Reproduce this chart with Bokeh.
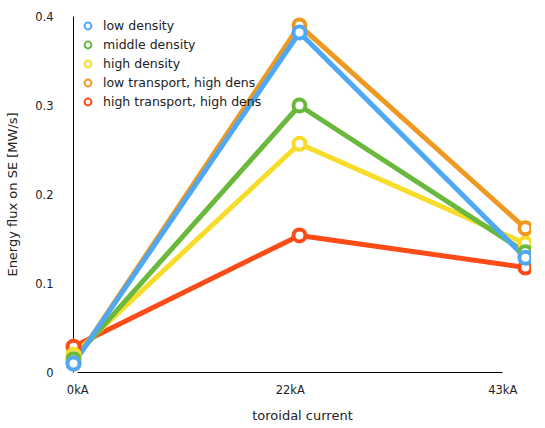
from bokeh.plotting import figure
from bokeh.models import Range1d, FixedTicker, LinearAxis, Legend, LegendItem
from bokeh.embed import file_html
from bokeh.resources import INLINE

categories = ["0kA", "22kA", "43kA"]
y_ticks = [0, 0.1, 0.2, 0.3, 0.4]
y_tick_labels = ["0", "0.1", "0.2", "0.3", "0.4"]

series_names = ["low density", "middle density", "high density",
                "low transport, high dens", "high transport, high dens"]
low_density = [0.010, 0.382, 0.129]
middle_density = [0.015, 0.300, 0.135]
high_density = [0.020, 0.257, 0.145]
low_transport_high_dens = [0.010, 0.390, 0.162]
high_transport_high_dens = [0.029, 0.154, 0.118]
colors = ["#4fa8f5", "#6ab83c", "#f7dc2a", "#ee9a22", "#fb4b17"]

series = [low_density, middle_density, high_density,
          low_transport_high_dens, high_transport_high_dens]

FONT = "DejaVu Sans"
FRAME_W = 458
FRAME_H = 356

p = figure(frame_width=FRAME_W, frame_height=FRAME_H, output_backend="svg",
           toolbar_location=None,
           x_range=Range1d(0, 2.027), y_range=Range1d(0, 0.4),
           min_border_left=73, min_border_right=0, min_border_top=16,
           min_border_bottom=46, x_axis_type=None)
p.outline_line_color = None
p.grid.visible = False
p.background_fill_color = "white"
p.border_fill_color = "white"

xs = list(range(len(categories)))
p.extra_x_ranges = {"axis": Range1d(-0.02, 2.135)}

xaxis = LinearAxis(x_range_name="axis", ticker=FixedTicker(ticks=xs),
                   bounds=(0, len(categories) - 1),
                   major_label_overrides={i: c for i, c in enumerate(categories)})
p.add_layout(xaxis, "below")

for ax in [xaxis] + list(p.yaxis):
    ax.axis_line_color = "black"
    ax.major_tick_line_color = None
    ax.minor_tick_line_color = None
    ax.major_label_text_font = FONT
    ax.major_label_text_font_size = "11.5px"
    ax.major_label_text_color = "#222222"
    ax.axis_label_text_font = FONT
    ax.axis_label_text_font_size = "13px"
    ax.axis_label_text_font_style = "normal"
    ax.axis_label_text_color = "#222222"

xaxis.axis_label = "toroidal current"
xaxis.major_label_standoff = 4
xaxis.axis_label_standoff = 8

yaxis = p.yaxis[0]
yaxis.ticker = FixedTicker(ticks=y_ticks)
yaxis.major_label_overrides = {t: l for t, l in zip(y_ticks, y_tick_labels)}
yaxis.axis_label = "Energy flux on SE [MW/s]"
yaxis.major_label_standoff = 14
yaxis.axis_label_standoff = 12

draw_order = [4, 2, 1, 3, 0]
for i in draw_order:
    p.line(xs, series[i], line_color=colors[i], line_width=5, level="overlay")
for i in draw_order:
    p.scatter(xs, series[i], marker="circle", size=12,
              fill_color="white", line_color=colors[i], line_width=4,
              level="overlay")

nan = float("nan")
items = []
for i, name in enumerate(series_names):
    r = p.scatter([0], [nan], marker="circle", fill_color="white",
                  line_color=colors[i], line_width=2)
    items.append(LegendItem(label=name, renderers=[r]))

legend = Legend(items=items, location=(6, 262), border_line_color=None,
                background_fill_alpha=0, padding=0, margin=0, spacing=2,
                glyph_width=17, glyph_height=17, label_height=17,
                label_standoff=7, label_text_font=FONT,
                label_text_font_size="12.5px", label_text_color="#222222")
p.add_layout(legend, "center")

open("out.html", "w").write(file_html(p, INLINE))
